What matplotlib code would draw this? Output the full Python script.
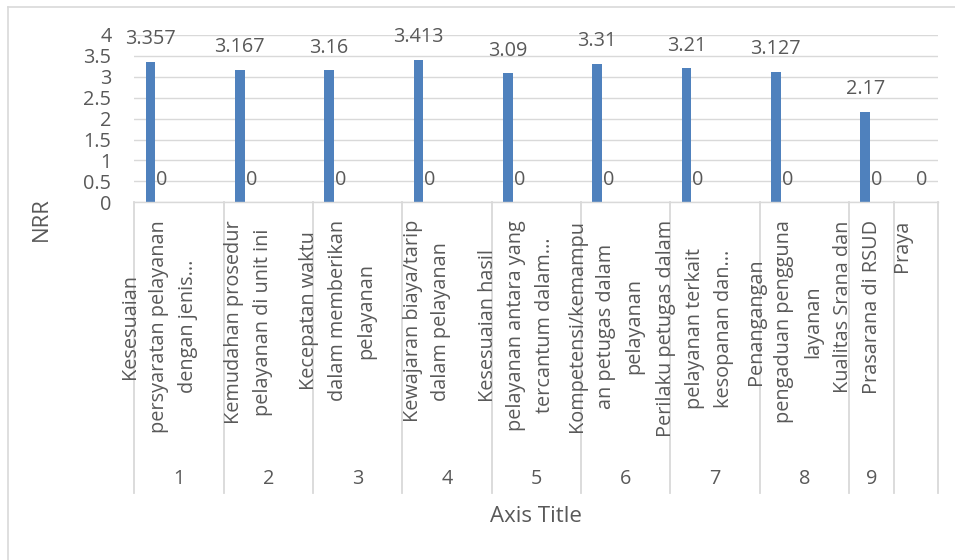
import matplotlib
matplotlib.use("Agg")
import matplotlib.pyplot as plt
from matplotlib.transforms import blended_transform_factory
from matplotlib.lines import Line2D

plt.rcParams['font.family'] = ['Open Sans', 'DejaVu Sans']

# ---- data ----
numbers = ["1", "2", "3", "4", "5", "6", "7", "8", "9"]
cat_labels = [
    "Kesesuaian\npersyaratan pelayanan\ndengan jenis...",
    "Kemudahan prosedur\npelayanan di unit ini",
    "Kecepatan waktu\ndalam memberikan\npelayanan",
    "Kewajaran biaya/tarip\ndalam pelayanan",
    "Kesesuaian hasil\npelayanan antara yang\ntercantum dalam...",
    "Kompetensi/kemampu\nan petugas dalam\npelayanan",
    "Perilaku petugas dalam\npelayanan terkait\nkesopanan dan...",
    "Penangangan\npengaduan pengguna\nlayanan",
    "Kualitas Srana dan\nPrasarana di RSUD",
]
extra_label = "Praya"
nrr = [3.357, 3.167, 3.16, 3.413, 3.09, 3.31, 3.21, 3.127, 2.17]
series_b = [0, 0, 0, 0, 0, 0, 0, 0, 0]
series_f = [None, None, None, None, None, None, None, None, 0]
y_ticks = [0, 0.5, 1, 1.5, 2, 2.5, 3, 3.5, 4]

# ---- style ----
TXT = "#595959"
GRID = "#D9D9D9"
BAR = "#4F81BD"
FS = 14.3
FS_T = 16
LS = 1.58

W, H = 955, 560
fig = plt.figure(figsize=(W / 100, H / 100), dpi=100)

def fx(px):
    return px / W

def fy(py):
    return 1 - py / H

ax = fig.add_axes([fx(134.3), fy(202.3), fx(938.3) - fx(134.3), fy(35) - fy(202.3)])

n = len(nrr)
xs = list(range(n))
step = 0.1275
bw = 0.109
off_a = -2.5 * step
off_b = -1.5 * step
off_f = 2.5 * step

ax.bar([x + off_a for x in xs], nrr, width=bw, color=BAR, zorder=3)

label_pad = 12.6
for x, v in zip(xs, nrr):
    ax.annotate(f"{v:g}", (x + off_a, v), xytext=(0, label_pad), textcoords="offset points",
                ha="center", va="baseline", fontsize=FS, color=TXT)
for x, v in zip(xs, series_b):
    if v is not None:
        ax.annotate(f"{v:g}", (x + off_b, v), xytext=(0, label_pad), textcoords="offset points",
                    ha="center", va="baseline", fontsize=FS, color=TXT)
for x, v in zip(xs, series_f):
    if v is not None:
        ax.annotate(f"{v:g}", (x + off_f, v), xytext=(0, label_pad), textcoords="offset points",
                    ha="center", va="baseline", fontsize=FS, color=TXT)

ax.set_xlim(-0.5, n - 0.5)
ax.set_ylim(0, 4)
ax.set_yticks(y_ticks)
ax.set_yticklabels([f"{t:g}" for t in y_ticks])
ax.tick_params(axis="y", length=0, pad=16.5, labelsize=FS, labelcolor=TXT)
ax.set_xticks([])
ax.grid(axis="y", color=GRID, linewidth=1.0, zorder=0)
for s in ["top", "right", "left"]:
    ax.spines[s].set_visible(False)
ax.spines["bottom"].set_color(GRID)
ax.spines["bottom"].set_linewidth(1.0)
ax.spines["bottom"].set_zorder(4)

# multi-level category axis
tr = blended_transform_factory(ax.transData, fig.transFigure)
bounds = [x - 0.5 for x in range(n + 1)] + [n - 1]
for b in bounds:
    ax.add_line(Line2D([b, b], [fy(202.3), fy(493)], transform=tr, color=GRID,
                       linewidth=1.3, clip_on=False))

text_top = fy(220)
for i, lab in enumerate(cat_labels[:-1]):
    ax.text(i - 0.225, text_top, lab, transform=tr, rotation=90, ha="center", va="top",
            multialignment="center", fontsize=FS, color=TXT, linespacing=LS)
ax.text(n - 1 - 0.404, text_top, cat_labels[-1], transform=tr, rotation=90, ha="center",
        va="top", multialignment="center", fontsize=FS, color=TXT, linespacing=LS)
ax.text(n - 1 + 0.09, text_top, extra_label, transform=tr, rotation=90, ha="center",
        va="top", multialignment="center", fontsize=FS, color=TXT)

num_y = fy(479)
for i, num in enumerate(numbers[:-1]):
    ax.text(i, num_y, num, transform=tr, ha="center", va="center", fontsize=FS, color=TXT)
ax.text(n - 1 - 0.25, num_y, numbers[-1], transform=tr, ha="center", va="center",
        fontsize=FS, color=TXT)

fig.text(fx(41), fy(219), "NRR", rotation=90, ha="center", va="center", fontsize=FS_T, color=TXT)
fig.text(fx(536.3), fy(517), "Axis Title", ha="center", va="center", fontsize=FS_T, color=TXT)

# chart border (only left and top visible)
fig.add_artist(Line2D([fx(7.5), fx(7.5)], [0, fy(7)], transform=fig.transFigure,
                      color=GRID, linewidth=1.2))
fig.add_artist(Line2D([fx(7.5), 1], [fy(7), fy(7)], transform=fig.transFigure,
                      color=GRID, linewidth=1.2))

fig.savefig("out.png", dpi=100, facecolor="white")
